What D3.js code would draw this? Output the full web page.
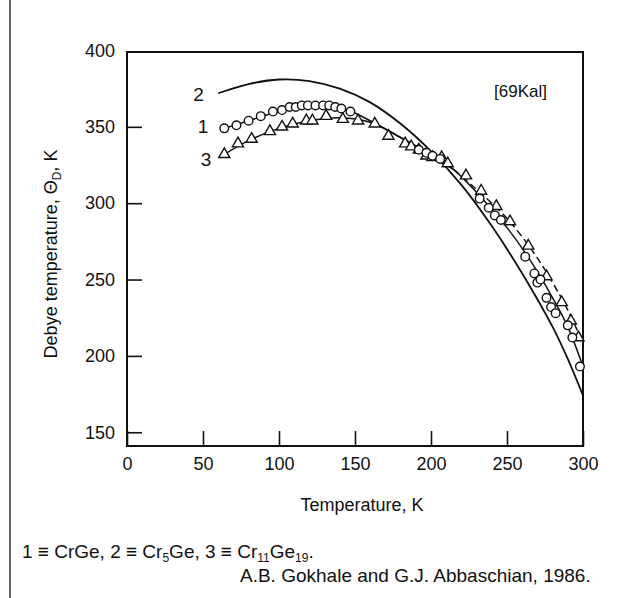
<!DOCTYPE html>
<html>
<head>
<meta charset="utf-8">
<script src="https://cdn.jsdelivr.net/npm/d3@7"></script>
<style>
  body { margin: 0; background: #fff; }
  svg { display: block; }
  text { font-family: "Liberation Sans", Arial, sans-serif; fill: #111; }
</style>
</head>
<body>
<div id="chart"></div>
<script>
// values (T in K, Debye temperature in K)
const crgeT = [64, 72, 80, 88, 96, 102, 107, 111, 115, 119, 124, 129, 133, 137, 141, 147,
  192, 197, 201, 206, 232, 238, 242, 246, 262, 268, 270, 272, 276, 279, 282, 290, 293, 298];
const crgeTheta = [349, 351, 354, 357, 360, 361, 363, 363, 364, 364, 364, 364, 364, 363, 362, 360,
  335, 333, 331, 329, 303, 297, 292, 289, 265, 254, 248, 250, 238, 232, 228, 220, 212, 193];

const cr11T = [64, 73, 82, 94, 102, 109, 118, 122, 131, 142, 152, 163, 172, 183, 187, 192, 197,
  201, 207, 211, 223, 233, 243, 252, 264, 276, 286, 292, 297];
const cr11Theta = [332, 339, 342, 347, 350, 352, 354, 354, 357, 355, 354, 352, 344, 339, 337, 335, 331,
  330, 330, 326, 318, 308, 298, 288, 272, 252, 235, 223, 212];

// drawn curves
const fit1T = [64, 80, 100, 115, 130, 145, 160, 180, 200, 215, 230, 250, 265, 280, 290, 300];
const fit1Theta = [349, 354, 360, 363, 364, 361, 354, 343, 332, 322, 307, 284, 263, 238, 219, 193];
const fit2T = [60, 80, 100, 120, 140, 160, 180, 200, 220, 240, 260, 280, 290, 300];
const fit2Theta = [372, 378, 381, 380, 375, 366, 352, 334, 312, 285, 254, 219, 198, 174];
const fit3T = [64, 80, 100, 120, 140, 160, 180, 200, 215, 230, 250, 270, 290, 300];
const fit3Theta = [332, 341, 349, 354, 356, 353, 343, 331, 322, 309, 290, 264, 230, 208];

const xTicks = [0, 50, 100, 150, 200, 250, 300];
const yTicks = [150, 200, 250, 300, 350, 400];
const curveLabels = ['1', '2', '3'];
const curveLabelT = [50, 47, 52];
const curveLabelTheta = [350, 371, 329];

const width = 644, height = 598;
const svg = d3.select('#chart').append('svg')
  .attr('width', width).attr('height', height);

const x = d3.scaleLinear().domain([0, 300]).range([127, 583]);
const y = d3.scaleLinear().domain([141, 399]).range([446, 52]);

// page margin rule on the left
svg.append('line')
  .attr('x1', 10).attr('x2', 10).attr('y1', 0).attr('y2', height)
  .attr('stroke', '#333').attr('stroke-width', 1.5);

// axes, ticks pointing inward
const xAxis = svg.append('g')
  .attr('transform', `translate(0,${y.range()[0]})`)
  .call(d3.axisBottom(x).tickValues(xTicks).tickSize(-15).tickPadding(11));
const yAxis = svg.append('g')
  .attr('transform', `translate(${x.range()[0]},0)`)
  .call(d3.axisLeft(y).tickValues(yTicks).tickSize(-15).tickPadding(12));
[xAxis, yAxis].forEach(g => {
  g.select('.domain').remove();
  g.selectAll('line').attr('stroke', '#111').attr('stroke-width', 1.6);
  g.selectAll('text').style('font-size', '18px').attr('fill', '#111')
    .style('font-family', '"Liberation Sans", Arial, sans-serif');
});
yAxis.selectAll('.tick').filter(d => d === 400).select('line').remove();

svg.append('rect')
  .attr('x', x.range()[0]).attr('y', y.range()[1])
  .attr('width', x.range()[1] - x.range()[0])
  .attr('height', y.range()[0] - y.range()[1])
  .attr('fill', 'none').attr('stroke', '#111').attr('stroke-width', 2);

// curves
const line = d3.line()
  .x(d => x(d[0])).y(d => y(d[1]))
  .curve(d3.curveCatmullRom.alpha(0.5));
const plot = svg.append('g');

plot.append('path')
  .datum(d3.zip(fit2T, fit2Theta))
  .attr('d', line)
  .attr('fill', 'none').attr('stroke', '#111').attr('stroke-width', 1.8);

plot.append('path')
  .datum(d3.zip(fit1T, fit1Theta))
  .attr('d', line)
  .attr('fill', 'none').attr('stroke', '#111').attr('stroke-width', 1.5);

const fit3 = d3.zip(fit3T, fit3Theta);
plot.append('path')
  .datum(fit3.filter(d => d[0] <= 215))
  .attr('d', line)
  .attr('fill', 'none').attr('stroke', '#111').attr('stroke-width', 1.5);
plot.append('path')
  .datum(fit3.filter(d => d[0] >= 215))
  .attr('d', line)
  .attr('fill', 'none').attr('stroke', '#111').attr('stroke-width', 1.5)
  .attr('stroke-dasharray', '7,4');

// markers
plot.append('g').selectAll('path')
  .data(d3.zip(cr11T, cr11Theta))
  .join('path')
  .attr('transform', d => `translate(${x(d[0])},${y(d[1])})`)
  .attr('d', d3.symbol(d3.symbolTriangle, 54))
  .attr('fill', '#fff').attr('stroke', '#111').attr('stroke-width', 1.4);

plot.append('g').selectAll('circle')
  .data(d3.zip(crgeT, crgeTheta))
  .join('circle')
  .attr('cx', d => x(d[0])).attr('cy', d => y(d[1]))
  .attr('r', 4.3)
  .attr('fill', '#fff').attr('stroke', '#111').attr('stroke-width', 1.4);

// curve numbers
svg.append('g').selectAll('text')
  .data(curveLabels)
  .join('text')
  .attr('x', (d, i) => x(curveLabelT[i]))
  .attr('y', (d, i) => y(curveLabelTheta[i]))
  .attr('dy', '0.35em')
  .attr('text-anchor', 'middle')
  .style('font-size', '19px')
  .text(d => d);

svg.append('text')
  .attr('x', 494).attr('y', 97)
  .style('font-size', '17px')
  .text('[69Kal]');

// axis titles
svg.append('text')
  .attr('x', 362).attr('y', 511)
  .attr('text-anchor', 'middle')
  .style('font-size', '18px')
  .text('Temperature, K');

const yTitle = svg.append('text')
  .attr('transform', 'translate(57,254) rotate(-90)')
  .attr('text-anchor', 'middle')
  .style('font-size', '18px');
yTitle.append('tspan').text('Debye temperature, Θ');
yTitle.append('tspan').attr('dy', 4).style('font-size', '12px').text('D');
yTitle.append('tspan').attr('dy', -4).text(', K');

// caption
const cap = svg.append('text')
  .attr('x', 22).attr('y', 558)
  .style('font-size', '19px');
cap.append('tspan').text('1 ≡ CrGe, 2 ≡ Cr');
cap.append('tspan').attr('dy', 4).style('font-size', '12px').text('5');
cap.append('tspan').attr('dy', -4).text('Ge, 3 ≡ Cr');
cap.append('tspan').attr('dy', 4).style('font-size', '12px').text('11');
cap.append('tspan').attr('dy', -4).text('Ge');
cap.append('tspan').attr('dy', 4).style('font-size', '12px').text('19');
cap.append('tspan').attr('dy', -4).text('.');

svg.append('text')
  .attr('x', 240).attr('y', 582)
  .style('font-size', '19px')
  .text('A.B. Gokhale and G.J. Abbaschian, 1986.');
</script>
</body>
</html>
